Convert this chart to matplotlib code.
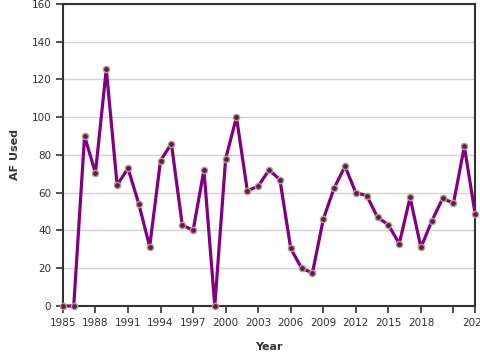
import matplotlib
matplotlib.use("Agg")
import matplotlib.pyplot as plt

years = list(range(1985, 2024))
af_used = [0, 0, 90, 70.5, 125.5, 64, 73, 54, 31.5, 77, 86, 43, 40, 72, 0,
           78, 100, 61, 63.5, 72, 67, 30.5, 20, 17.5, 46, 62.5, 74, 60, 58.5,
           47, 43, 33, 57.5, 31, 45, 57, 54.5, 84.5, 48.5]
xticks = [1985, 1988, 1991, 1994, 1997, 2000, 2003, 2006, 2009, 2012, 2015, 2018, 2021, 2023]
xtick_labels = ["1985", "1988", "1991", "1994", "1997", "2000", "2003", "2006", "2009",
                "2012", "2015", "2018", "", "2023"]
yticks = [0, 20, 40, 60, 80, 100, 120, 140, 160]

fig = plt.figure(figsize=(4.8, 3.6), dpi=100)
ax = fig.add_axes([0.131, 0.15, 0.859, 0.839])

ax.plot(years, af_used, color="#800080", linewidth=2.3, zorder=3,
        marker="o", markersize=4.5, markerfacecolor="#5e1a5e",
        markeredgecolor="#b8a27e", markeredgewidth=1.0, clip_on=False)

ax.set_xlim(1985, 2023)
ax.set_ylim(0, 160)
ax.set_xticks(xticks)
ax.set_xticklabels(xtick_labels)
ax.set_yticks(yticks)
ax.grid(axis="y", color="#d3d3d3", linewidth=1)
ax.set_axisbelow(True)
for s in ax.spines.values():
    s.set_color("#333333")
    s.set_linewidth(1.5)
ax.tick_params(colors="#333333", labelsize=7.5, length=5, width=1.2)
ax.set_xlabel("Year", fontsize=8, fontweight="bold", color="#333333", labelpad=10)
ax.set_ylabel("AF Used", fontsize=8, fontweight="bold", color="#333333", labelpad=8)

fig.savefig("out.png", dpi=100)
